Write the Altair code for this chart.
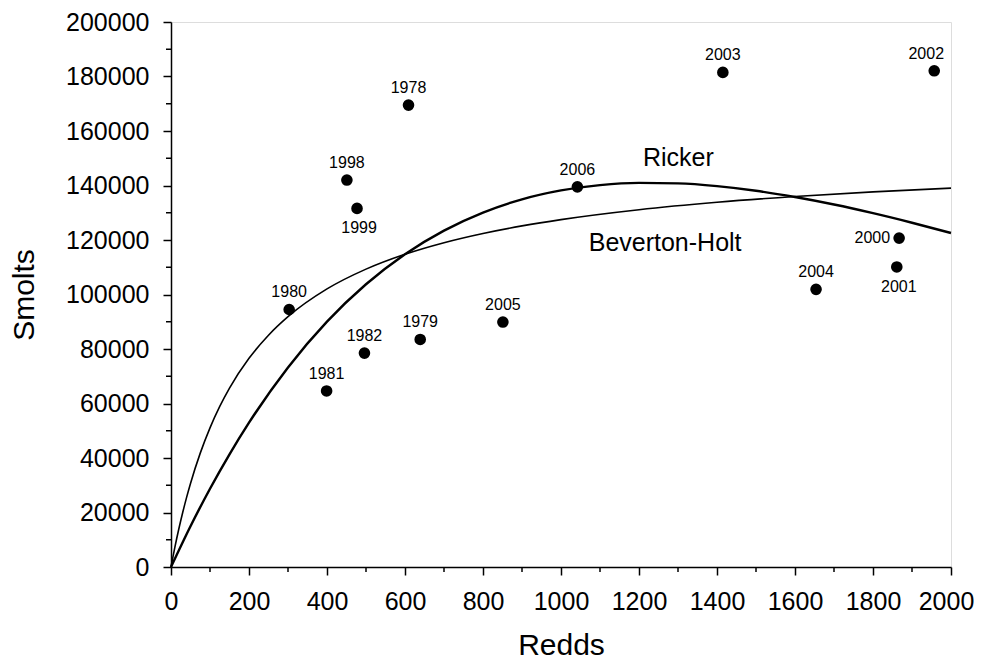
import altair as alt
import pandas as pd

# observed points
years = ["1978", "1979", "1980", "1981", "1982", "1998", "1999",
         "2000", "2001", "2002", "2003", "2004", "2005", "2006"]
redds = [609, 639, 303, 399, 496, 451, 477, 1867, 1861, 1957, 1415, 1654, 851, 1042]
smolts = [169500, 83500, 94500, 64600, 78500, 142000, 131600,
          120700, 110100, 182100, 181500, 101900, 89900, 139500]
label_side = ["above", "above", "above", "above", "above", "above", "below",
              "left", "below", "aboveleft", "above", "above", "above", "above"]

# fitted curves
ricker_redds = [0, 50, 100, 150, 200, 300, 400, 500, 600, 700, 800, 900, 1000,
                1100, 1200, 1300, 1400, 1500, 1600, 1700, 1800, 1900, 2000]
ricker_smolts = [0, 14960, 28730, 41370, 52970, 73250, 90040, 103760, 114790,
                 123460, 130070, 134920, 138190, 140150, 140960, 140770, 139770,
                 138070, 135760, 133010, 129840, 126340, 122580]
bh_redds = [0, 5, 10, 20, 30, 40, 50, 75, 100, 125, 150, 200, 250, 300, 400, 500,
            600, 700, 800, 900, 1000, 1200, 1400, 1600, 1800, 2000]
bh_smolts = [0, 3740, 7300, 13940, 20000, 25550, 30660, 41790, 51070, 58920, 65650,
             76570, 85060, 91860, 102040, 109310, 114770, 119010, 122400, 125170,
             127490, 131120, 133840, 135960, 137660, 139040]

# curve annotations
ann_text = ["Ricker", "Beverton-Holt"]
ann_redds = [1301, 1267]
ann_smolts = [147300, 116000]

# axis ticks
x_major = list(range(0, 2001, 200))
x_minor = list(range(100, 2000, 200))
y_major = list(range(0, 200001, 20000))
y_minor = list(range(10000, 200000, 20000))

pts = pd.DataFrame({"Redds": redds, "Smolts": smolts, "year": years, "side": label_side})
ricker = pd.DataFrame({"Redds": ricker_redds, "Smolts": ricker_smolts})
bh = pd.DataFrame({"Redds": bh_redds, "Smolts": bh_smolts})
ann = pd.DataFrame({"Redds": ann_redds, "Smolts": ann_smolts, "t": ann_text})
xmin = pd.DataFrame({"Redds": x_minor})
ymin = pd.DataFrame({"Smolts": y_minor})

FONT = "Liberation Sans"
W, H = 780, 545

xscale = alt.Scale(domain=[0, 2000], nice=False, zero=False)
yscale = alt.Scale(domain=[0, 200000], nice=False, zero=False)
common_axis = dict(
    tickSize=8, tickWidth=1.5, tickColor="black", domainColor="black",
    domainWidth=1.5, labelFontSize=25, labelColor="black", labelFont=FONT,
    titleFontSize=30, titleFont=FONT, titleFontWeight="normal", titleColor="black",
    grid=False, labelOverlap=False, labelFlush=False, labelPadding=14,
)
xaxis = alt.Axis(values=x_major, format="d", title="Redds", titlePadding=16,
                 labelOffset={"condition": {"test": "datum.value == 2000", "value": -5}, "value": 0},
                 **common_axis)
yaxis = alt.Axis(values=y_major, format="d", title="Smolts", titlePadding=26, **common_axis)


def X():
    return alt.X("Redds:Q", scale=xscale, axis=xaxis)


def Y():
    return alt.Y("Smolts:Q", scale=yscale, axis=yaxis)


bh_line = alt.Chart(bh).mark_line(color="black", strokeWidth=1.6, interpolate="monotone").encode(x=X(), y=Y())
ricker_line = alt.Chart(ricker).mark_line(color="black", strokeWidth=2.4, interpolate="monotone").encode(x=X(), y=Y())
dots = alt.Chart(pts).mark_circle(color="black", opacity=1, size=135).encode(x=X(), y=Y())

lab_kw = dict(font=FONT, fontSize=16, color="black")
lab_above = alt.Chart(pts).transform_filter(alt.datum.side == "above").mark_text(
    align="center", baseline="bottom", dy=-9, **lab_kw).encode(x=X(), y=Y(), text="year:N")
lab_aboveleft = alt.Chart(pts).transform_filter(alt.datum.side == "aboveleft").mark_text(
    align="center", baseline="bottom", dy=-9, dx=-8, **lab_kw).encode(x=X(), y=Y(), text="year:N")
lab_below = alt.Chart(pts).transform_filter(alt.datum.side == "below").mark_text(
    align="center", baseline="top", dy=12, dx=2, **lab_kw).encode(x=X(), y=Y(), text="year:N")
lab_left = alt.Chart(pts).transform_filter(alt.datum.side == "left").mark_text(
    align="right", baseline="middle", dx=-9, **lab_kw).encode(x=X(), y=Y(), text="year:N")

ann_layer = alt.Chart(ann).mark_text(font=FONT, fontSize=25, color="black",
                                     align="center", baseline="alphabetic").encode(x=X(), y=Y(), text="t:N")

xminor_layer = alt.Chart(xmin).mark_rule(color="black", strokeWidth=1.5).encode(
    x=X(), y=alt.value(H), y2=alt.value(H + 5))
yminor_layer = alt.Chart(ymin).mark_rule(color="black", strokeWidth=1.5).encode(
    y=Y(), x=alt.value(-5), x2=alt.value(0))

chart = alt.layer(
    bh_line, ricker_line, dots, lab_above, lab_aboveleft, lab_below, lab_left,
    ann_layer, xminor_layer, yminor_layer,
).properties(
    width=W, height=H,
    autosize=alt.AutoSizeParams(type="none"),
    padding={"left": 163, "top": 14, "right": 23, "bottom": 95},
).configure_view(
    stroke="black", strokeWidth=1.5
).configure(background="white")

chart.save("out.html", embed_options={"renderer": "svg", "actions": False})
